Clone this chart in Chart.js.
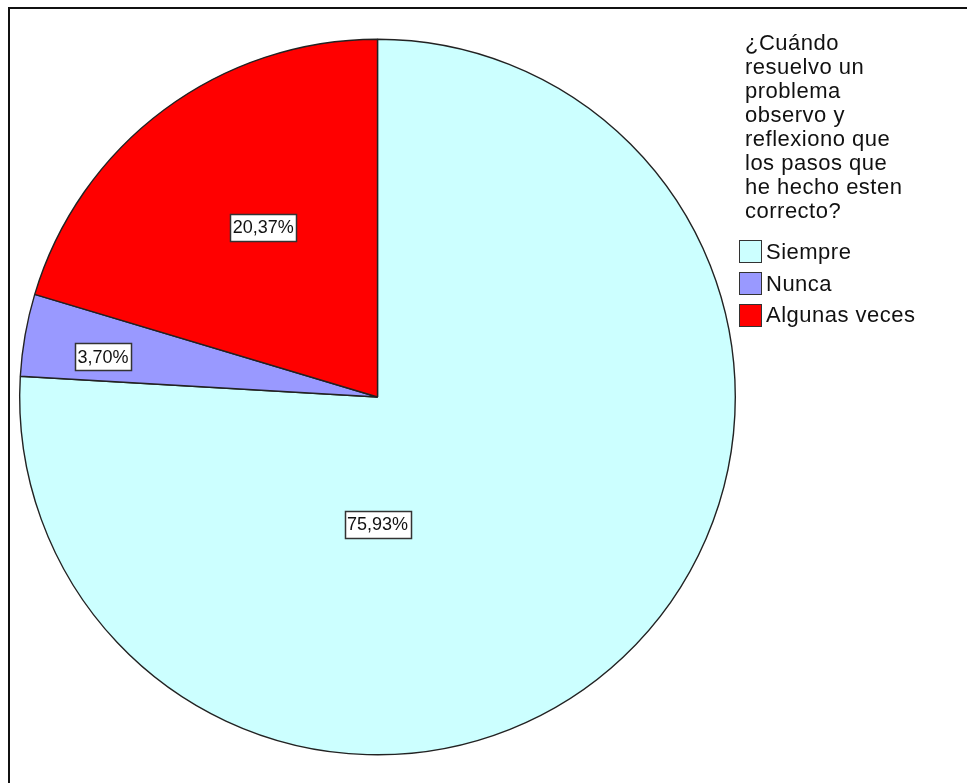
<!DOCTYPE html>
<html>
<head>
<meta charset="utf-8">
<script src="https://cdn.jsdelivr.net/npm/chart.js@4"></script>
<style>
  html, body { margin: 0; padding: 0; background: #fff; overflow: hidden; }
  #wrap { position: relative; width: 967px; height: 783px; }
  #frame {
    position: absolute; left: 8px; top: 7px; width: 990px; height: 800px;
    border: 2px solid #111;
  }
  #pie { position: absolute; left: 0; top: 0; }
  #legend {
    position: absolute; left: 739px; top: 31px;
    font-family: "Liberation Sans", Arial, sans-serif; color: #111;
    font-size: 22px; letter-spacing: 0.5px;
  }
  #legendTitle { line-height: 24px; margin-left: 6px; white-space: pre; }
  .item { display: flex; align-items: center; height: 31.7px; white-space: nowrap; }
  .item:first-of-type { margin-top: 13px; }
  .swatch { width: 21px; height: 21px; border: 1px solid #333; margin-right: 4px; }
</style>
</head>
<body>
<div id="wrap">
  <div id="frame"></div>
  <canvas id="pie" width="967" height="783"></canvas>
  <div id="legend">
    <div id="legendTitle"></div>
    <div id="legendItems"></div>
  </div>
</div>
<script>
// data (54 answers in total)
const categories = ['Siempre', 'Nunca', 'Algunas veces'];
const counts = [41, 2, 11];
const sliceColors = ['#CCFFFF', '#9999FF', '#FF0000'];
const legendTitleLines = ['¿Cuándo', 'resuelvo un', 'problema', 'observo y', 'reflexiono que', 'los pasos que', 'he hecho esten', 'correcto?'];

// where each percentage box sits, relative to its slice (style only)
const labelPlacement = [
    { angleShift: 43.3, radius: 0.355 },
    { angleShift: -1.7, radius: 0.775 },
    { angleShift: 2.7, radius: 0.572 },
];

const total = counts.reduce((a, b) => a + b, 0);
const pctText = (v) => (v / total * 100).toFixed(2).replace('.', ',') + '%';

// boxed percentage labels like the SPSS output
const percentBoxes = {
    id: 'percentBoxes',
    afterDatasetsDraw(chart) {
        const ctx = chart.ctx;
        const meta = chart.getDatasetMeta(0);
        ctx.save();
        ctx.font = '18px "Liberation Sans", Arial, sans-serif';
        ctx.textAlign = 'center';
        ctx.textBaseline = 'middle';
        meta.data.forEach((arc, i) => {
            const p = labelPlacement[i];
            const mid = (arc.startAngle + arc.endAngle) / 2 + p.angleShift * Math.PI / 180;
            const d = arc.outerRadius * p.radius;
            const x = arc.x + Math.cos(mid) * d;
            const y = arc.y + Math.sin(mid) * d;
            const txt = pctText(counts[i]);
            const w = Math.round(ctx.measureText(txt).width + 5);
            const h = 27;
            const bx = Math.round(x - w / 2) + 0.5;
            const by = Math.round(y - h / 2) + 0.5;
            ctx.fillStyle = '#fff';
            ctx.fillRect(bx, by, w, h);
            ctx.strokeStyle = '#333';
            ctx.lineWidth = 1.5;
            ctx.strokeRect(bx, by, w, h);
            ctx.fillStyle = '#111';
            ctx.fillText(txt, x, y + 1);
        });
        ctx.restore();
    },
};

new Chart(document.getElementById('pie'), {
    type: 'pie',
    data: {
        labels: categories,
        datasets: [
            {
                data: counts,
                backgroundColor: sliceColors,
                borderColor: '#222',
                borderWidth: 1.4,
            },
        ],
    },
    options: {
        responsive: false,
        animation: false,
        layout: {
            padding: { left: 19, right: 231, top: 38.5, bottom: 27.5 },
        },
        plugins: {
            legend: { display: false },
            tooltip: { enabled: false },
        },
    },
    plugins: [percentBoxes],
});

// legend on the right
document.getElementById('legendTitle').textContent = legendTitleLines.join('\n');
const itemsDiv = document.getElementById('legendItems');
categories.forEach((name, i) => {
    const row = document.createElement('div');
    row.className = 'item';
    const sw = document.createElement('div');
    sw.className = 'swatch';
    sw.style.background = sliceColors[i];
    const label = document.createElement('span');
    label.textContent = name;
    row.appendChild(sw);
    row.appendChild(label);
    itemsDiv.appendChild(row);
});
</script>
</body>
</html>
